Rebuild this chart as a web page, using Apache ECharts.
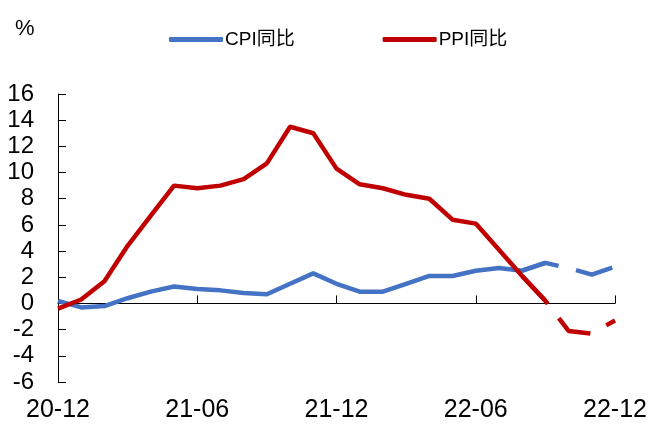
<!DOCTYPE html>
<html><head><meta charset="utf-8">
<script src="https://cdn.jsdelivr.net/npm/echarts@6/dist/echarts.min.js"></script>
<style>html,body{margin:0;padding:0;background:#fff}#c{width:653px;height:428px}</style>
</head><body><div id="c"></div>
<script>
var months = ['20-12','21-01','21-02','21-03','21-04','21-05','21-06','21-07','21-08','21-09','21-10','21-11','21-12','22-01','22-02','22-03','22-04','22-05','22-06','22-07','22-08','22-09','22-10','22-11','22-12'];
var cpi = [0.2,-0.3,-0.2,0.4,0.9,1.3,1.1,1.0,0.8,0.7,1.5,2.3,1.5,0.9,0.9,1.5,2.1,2.1,2.5,2.7,2.5,3.1,2.7,2.2,2.8];
var ppi = [-0.4,0.3,1.7,4.4,6.7,9.0,8.8,9.0,9.5,10.7,13.5,13.0,10.3,9.1,8.8,8.3,8.0,6.4,6.1,4.1,2.1,0.2,-2.1,-2.3,-1.3];
var yTicks = {min:-6, max:16, interval:2};
var solidEnd = 21;   // index of 22-09
var dashStart = 20;  // index of 22-08

function part(arr, a, b){ return arr.map(function(v,i){ return (i>=a && i<=b) ? v : null; }); }

var font = '"Liberation Sans", Arial, sans-serif';
var chart = echarts.init(document.getElementById('c'), null, {renderer:'canvas'});
chart.setOption({
  animation:false,
  title:{text:'%', left:10, top:13, textStyle:{fontSize:22, fontWeight:'normal', color:'#000', fontFamily:font}},
  legend:{data:['CPI同比','PPI同比'], left:164, top:25, icon:'roundRect', itemWidth:54, itemHeight:5, itemGap:88,
    textStyle:{fontSize:19, color:'#000', padding:[0,0,0,-3], fontFamily:'"Liberation Sans", "Noto Sans CJK SC", sans-serif'}},
  grid:{left:58, right:38, top:94, bottom:46, containLabel:false},
  xAxis:[{
    type:'category', data:months, boundaryGap:false, position:'bottom',
    axisLine:{show:false, onZero:false}, axisTick:{show:false},
    axisLabel:{interval:5, fontSize:25, color:'#000', margin:16, fontFamily:font}
  },{
    type:'category', data:months, boundaryGap:false, position:'bottom',
    axisLine:{show:true, onZero:true, lineStyle:{color:'#000', width:1}},
    axisTick:{show:true, inside:true, interval:5, length:8, lineStyle:{color:'#000'}},
    axisLabel:{show:false}
  }],
  yAxis:{type:'value', min:yTicks.min, max:yTicks.max, interval:yTicks.interval,
    axisLine:{show:true, lineStyle:{color:'#000'}},
    axisTick:{show:true, inside:true, length:8, lineStyle:{color:'#000'}},
    splitLine:{show:false},
    axisLabel:{fontSize:24, color:'#000', margin:24, fontFamily:font}},
  series:[
    {name:'CPI同比', type:'line', data:part(cpi,0,solidEnd), symbol:'none', z:4,
      lineStyle:{color:'#4472C4', width:4.5}, itemStyle:{color:'#4472C4'}},
    {name:'PPI同比', type:'line', data:part(ppi,0,solidEnd), symbol:'none', z:4,
      lineStyle:{color:'#C00000', width:4.5}, itemStyle:{color:'#C00000'}},
    {name:'CPI预测', type:'line', data:part(cpi,dashStart,24), symbol:'none', z:3,
      lineStyle:{color:'#4472C4', width:4.5, type:[38,18]}},
    {name:'PPI预测', type:'line', data:part(ppi,dashStart,24), symbol:'none', z:3,
      lineStyle:{color:'#C00000', width:4.5, type:[38,18]}}
  ]
});
</script></body></html>
